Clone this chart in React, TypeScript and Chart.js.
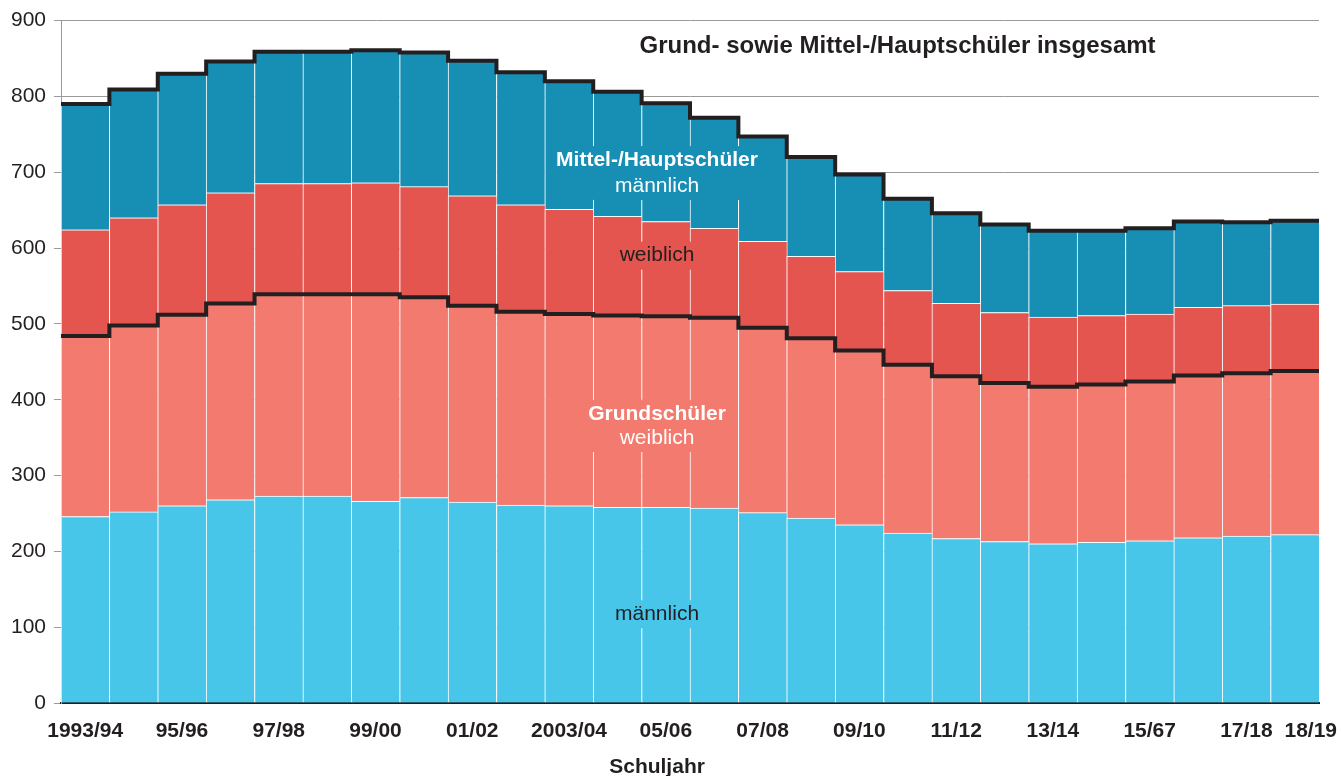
import React, { useEffect, useRef } from "react";
import { Chart, registerables } from "chart.js";

Chart.register(...registerables);

const categories = ["1993/94","94/95","95/96","96/97","97/98","98/99","99/00","00/01","01/02","02/03","2003/04","04/05","05/06","06/07","07/08","08/09","09/10","10/11","11/12","12/13","13/14","14/15","15/67","16/17","17/18","18/19"];
const tickLabels = ["1993/94","","95/96","","97/98","","99/00","","01/02","","2003/04","","05/06","","07/08","","09/10","","11/12","","13/14","","15/67","","17/18","18/19"];

const grundMaennlich = [246,252,260,268,273,273,266,271,265,261,260,258,258,257,251,244,235,224,217,213,210,212,214,218,220,222];
const grundWeiblich = [238,246,252,259,266,266,273,264,259,255,253,253,252,251,244,237,230,222,214,209,207,208,210,214,215,216];
const mittelWeiblich = [140,142,145,146,146,146,147,146,145,141,138,131,125,118,114,108,104,98,96,93,92,91,89,90,89,88];
const mittelMaennlich = [166,169,173,173,174,174,175,177,178,175,169,164,156,146,138,131,128,121,119,116,114,112,113,113,110,110];

const yTicks = [0,100,200,300,400,500,600,700,800,900];

const C_CYAN = "#48C6E9";
const C_SALMON = "#F27A6F";
const C_RED = "#E4554F";
const C_BLUE = "#178EB3";
const C_DARK = "#231F20";
const FONT = "'Liberation Sans', Arial, Helvetica, sans-serif";
const LAST = tickLabels.length - 1;

const stepPlugin = {
  id: "stepLines",
  afterDatasetsDraw(chart: any) {
    const ctx = chart.ctx;
    [1, 3].forEach((di) => {
      const meta = chart.getDatasetMeta(di);
      ctx.save();
      ctx.beginPath();
      meta.data.forEach((bar: any, i: number) => {
        const p = bar.getProps(["x", "y", "width"], true);
        const l = p.x - p.width / 2;
        const r = p.x + p.width / 2;
        if (i === 0) ctx.moveTo(l, p.y);
        else ctx.lineTo(l, p.y);
        ctx.lineTo(r, p.y);
      });
      ctx.lineWidth = 4;
      ctx.strokeStyle = C_DARK;
      ctx.lineJoin = "miter";
      ctx.lineCap = "butt";
      ctx.stroke();
      ctx.restore();
    });
  },
};

type Lbl = { lines: { text: string; bold: boolean; value: number }[]; color: string; bg: string | null };

const labelPlugin = {
  id: "annotLabels",
  afterDraw(chart: any) {
    const ctx = chart.ctx;
    const ys = chart.scales.y;
    const xs = chart.scales.x;
    const area = chart.chartArea;
    const cx = area.left + area.width * 0.4738;
    const groups: Lbl[] = [
      { lines: [{ text: "Mittel-/Hauptschüler", bold: true, value: 716 }, { text: "männlich", bold: false, value: 682 }], color: "#ffffff", bg: C_BLUE },
      { lines: [{ text: "weiblich", bold: false, value: 590 }], color: C_DARK, bg: C_RED },
      { lines: [{ text: "Grundschüler", bold: true, value: 381 }, { text: "weiblich", bold: false, value: 349.5 }], color: "#ffffff", bg: C_SALMON },
      { lines: [{ text: "männlich", bold: false, value: 117 }], color: C_DARK, bg: C_CYAN },
    ];
    ctx.save();
    ctx.textAlign = "center";
    ctx.textBaseline = "middle";
    groups.forEach((g) => {
      let maxW = 0;
      g.lines.forEach((ln) => {
        ctx.font = (ln.bold ? "bold " : "") + "21px " + FONT;
        maxW = Math.max(maxW, ctx.measureText(ln.text).width);
      });
      const yTop = ys.getPixelForValue(g.lines[0].value) - 14;
      const yBot = ys.getPixelForValue(g.lines[g.lines.length - 1].value) + 14;
      if (g.bg) {
        ctx.fillStyle = g.bg;
        ctx.fillRect(cx - maxW / 2 - 4, yTop, maxW + 8, yBot - yTop);
      }
      g.lines.forEach((ln) => {
        ctx.font = (ln.bold ? "bold " : "") + "21px " + FONT;
        ctx.fillStyle = g.color;
        ctx.fillText(ln.text, cx, ys.getPixelForValue(ln.value));
      });
    });
    // title
    ctx.font = "bold 24px " + FONT;
    ctx.fillStyle = C_DARK;
    ctx.fillText("Grund- sowie Mittel-/Hauptschüler insgesamt", area.left + area.width * 0.665, ys.getPixelForValue(866));
    // last x tick label, nudged right to avoid overlap
    ctx.font = "bold 21px " + FONT;
    ctx.textAlign = "right";
    ctx.fillText(tickLabels[LAST], chart.width - 4, xs.top + 28);
    // axis title
    ctx.textAlign = "center";
    ctx.fillText("Schuljahr", cx, xs.top + 64);
    ctx.restore();
  },
};

export default function App() {
  const ref = useRef<HTMLCanvasElement | null>(null);
  useEffect(() => {
    if (!ref.current) return;
    const mk = (label: string, data: number[], color: string) => ({
      label,
      data,
      backgroundColor: color,
      borderColor: "#ffffff",
      borderWidth: { top: 1, left: 1, right: 0, bottom: 0 },
      borderSkipped: false as any,
      barPercentage: 1,
      categoryPercentage: 1,
    });
    const chart = new Chart(ref.current, {
      type: "bar",
      data: {
        labels: categories,
        datasets: [
          mk("Grundschüler männlich", grundMaennlich, C_CYAN),
          mk("Grundschüler weiblich", grundWeiblich, C_SALMON),
          mk("Mittel-/Hauptschüler weiblich", mittelWeiblich, C_RED),
          mk("Mittel-/Hauptschüler männlich", mittelMaennlich, C_BLUE),
        ],
      },
      options: {
        responsive: false,
        animation: false,
        layout: { padding: { top: 18, right: 22, left: 0, bottom: 0 } },
        plugins: { legend: { display: false }, tooltip: { enabled: false }, title: { display: false } },
        scales: {
          x: {
            stacked: true,
            afterFit: (s: any) => { s.height = 73; },
            grid: { display: true, drawOnChartArea: false, drawTicks: false },
            border: { display: true, color: C_DARK, width: 2 },
            ticks: {
              autoSkip: false,
              maxRotation: 0,
              minRotation: 0,
              padding: 16,
              color: C_DARK,
              font: { family: FONT, size: 21, weight: "bold" },
              callback: (_v: any, i: number) => (i === LAST ? "" : tickLabels[i]),
            },
          },
          y: {
            stacked: true,
            min: 0,
            max: 900,
            afterFit: (s: any) => { s.width = 61; },
            afterBuildTicks: (s: any) => { s.ticks = yTicks.map((v) => ({ value: v })); },
            grid: { color: "#9a9a9a", lineWidth: 1, tickLength: 7 },
            border: { display: true, color: "#9a9a9a", width: 1 },
            ticks: {
              padding: 8,
              color: C_DARK,
              font: { family: FONT, size: 21 },
            },
          },
        },
      },
      plugins: [stepPlugin, labelPlugin],
    });
    return () => chart.destroy();
  }, []);
  return (
    <div style={{ position: "absolute", left: 0, top: 0, width: 1341, height: 776, background: "#fff" }}>
      <canvas ref={ref} width={1341} height={776} />
    </div>
  );
}
